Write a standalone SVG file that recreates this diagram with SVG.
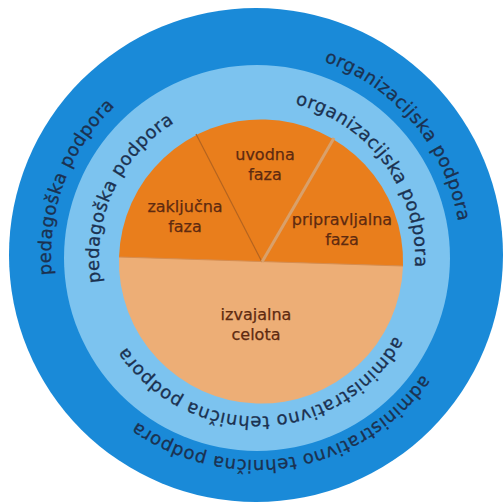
<svg xmlns="http://www.w3.org/2000/svg" width="503" height="503" viewBox="0 0 503 503">
<style>
.ring{font-family:"DejaVu Sans","Verdana",sans-serif;font-size:18px;letter-spacing:0.5px;fill:#1b3150;stroke:#1b3150;stroke-width:0.3px;}
.phase{font-family:"DejaVu Sans","Verdana",sans-serif;font-size:16px;fill:#5e2a10;stroke:#5e2a10;stroke-width:0.25px;text-anchor:middle;}
</style>
<defs>
<path id="pInner" d="M108.53,312.04 A158,158 0 1 1 405.47,203.96 A158,158 0 1 1 108.53,312.04"/>
<path id="pOuter" d="M63.36,325.11 A205,205 0 1 1 448.64,184.89 A205,205 0 1 1 63.36,325.11"/>
</defs>
<rect width="503" height="503" fill="#ffffff"/>
<g id="outer-ring">
<circle cx="256" cy="255" r="247" fill="#1a8ad8"/>
<text class="ring"><textPath href="#pOuter" startOffset="144.9" text-anchor="middle">pedagoška podpora</textPath></text>
<text class="ring"><textPath href="#pOuter" startOffset="572.5" text-anchor="middle">organizacijska podpora</textPath></text>
<text class="ring"><textPath href="#pOuter" startOffset="1004" text-anchor="middle">administrativno tehnična podpora</textPath></text>
</g>
<g id="inner-ring">
<circle cx="257" cy="258" r="193" fill="#7cc3ef"/>
<text class="ring"><textPath href="#pInner" startOffset="124.1" text-anchor="middle">pedagoška podpora</textPath></text>
<text class="ring"><textPath href="#pInner" startOffset="452.2" text-anchor="middle">organizacijska podpora</textPath></text>
<text class="ring"><textPath href="#pInner" startOffset="795" text-anchor="middle">administrativno tehnična podpora</textPath></text>
</g>
<g id="izvajalna-celota">
<path d="M403,266 A142,142 0 0 1 119,257 Z" fill="#edae76"/>
<text class="phase" x="256" y="320">izvajalna</text>
<text class="phase" x="256" y="340">celota</text>
</g>
<g id="top-phases">
<path d="M119,257 A142,142 0 1 1 403,266 Z" fill="#e97e1c"/>
</g>
<g id="connectors">
<line x1="119" y1="257" x2="403" y2="266" stroke="#d98c4c" stroke-width="1"/>
<line x1="262" y1="262" x2="196" y2="134" stroke="#b5641f" stroke-width="1.2"/>
<line x1="262" y1="262" x2="334" y2="138" stroke="#d9a06a" stroke-width="3"/>
</g>
<g id="zakljucna-faza">
<text class="phase" x="185" y="212">zaključna</text>
<text class="phase" x="185" y="232">faza</text>
</g>
<g id="uvodna-faza">
<text class="phase" x="265" y="160">uvodna</text>
<text class="phase" x="265" y="180">faza</text>
</g>
<g id="pripravljalna-faza">
<text class="phase" x="342" y="225">pripravljalna</text>
<text class="phase" x="342" y="245">faza</text>
</g>
</svg>
